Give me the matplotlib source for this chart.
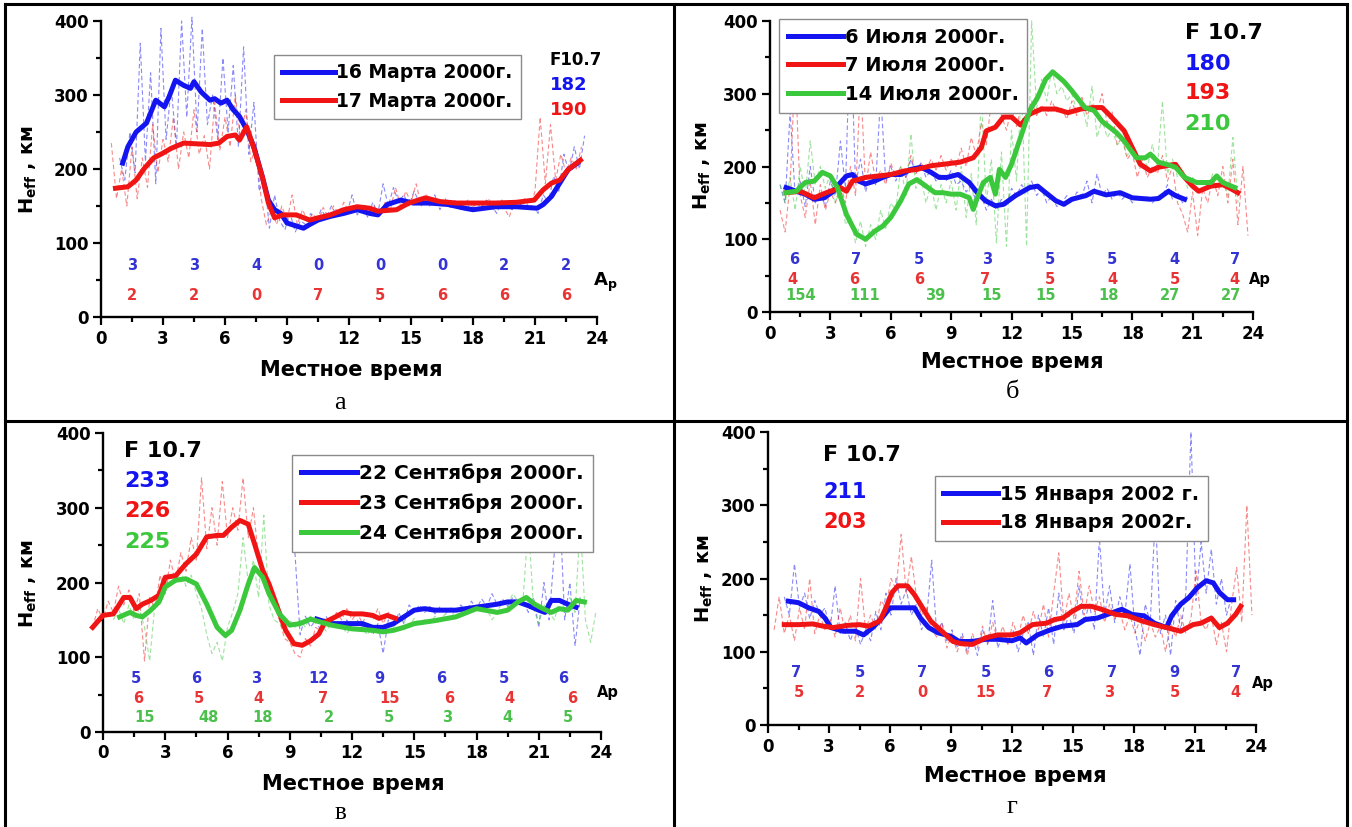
import numpy as np
import matplotlib.pyplot as plt
from matplotlib.ticker import MultipleLocator
from matplotlib.lines import Line2D

plt.rcParams["font.family"] = ["DejaVu Sans"]
plt.rcParams["font.weight"] = "bold"
plt.rcParams["mathtext.fontset"] = "custom"
plt.rcParams["mathtext.rm"] = "DejaVu Sans:bold"
plt.rcParams["mathtext.it"] = "DejaVu Sans:bold"
plt.rcParams["mathtext.bf"] = "DejaVu Sans:bold"

BLUE, RED, GREEN = "#1414f0", "#f01414", "#3cc83c"
AP_BLUE, AP_RED, AP_GREEN = "#3434d4", "#e83434", "#4cc04c"

# ---------------- а: March 2000 ----------------
a_blue_t = [1.05, 1.3, 1.7, 2.2, 2.65, 3.07, 3.3, 3.6, 4.0, 4.33, 4.5, 4.85, 5.27, 5.5, 5.8, 6.1, 6.4, 6.7, 7.05, 7.4,
            7.8, 8.1, 8.4, 8.7, 9.0, 9.45, 9.8, 10.1, 10.5, 11.1, 11.75, 12.4, 13.0, 13.4, 13.85, 14.5, 15.1, 15.9,
            16.8, 17.6, 18.0, 19.1, 20.1, 21.1, 21.4, 21.8, 22.2, 22.6, 23.05]
a_blue_h = [208, 230, 250, 262, 293, 284, 298, 320, 313, 309, 318, 304, 293, 295, 289, 293, 280, 271, 253, 230,
            190, 158, 145, 140, 127, 123, 120, 125, 131, 136, 140, 145, 140, 138, 152, 158, 154, 154,
            152, 147, 145, 149, 149, 147, 152, 163, 181, 199, 208]
a_red_t = [0.7, 1.3, 1.7, 2.1, 2.55, 2.97, 3.4, 4.0, 4.65, 5.27, 5.7, 6.1, 6.5, 6.7, 7.05, 7.4, 7.8, 8.1, 8.4, 8.8,
           9.45, 10.1, 10.5, 11.1, 11.75, 12.4, 13.0, 13.4, 14.3, 14.9, 15.7, 16.4, 17.2, 18.0, 19.1, 20.1, 20.96,
           21.4, 21.8, 22.2, 22.6, 23.2]
a_red_h = [174, 176, 185, 201, 215, 221, 228, 235, 234, 233, 235, 244, 246, 239, 257, 228, 190, 154, 134, 138,
           138, 131, 134, 138, 145, 149, 147, 143, 145, 154, 161, 156, 154, 154, 154, 155, 158,
           172, 181, 185, 199, 212]
# raw soundings, every 15 min
a_blue_raw_t0 = 0.9
a_blue_raw = [215, 185, 250, 195, 370, 210, 330, 180, 390, 240, 310, 230, 400, 270, 405, 250, 390, 260, 300, 240,
              350, 250, 340, 230, 365, 220, 290, 170, 190, 120, 165, 130, 118, 140, 115, 130, 125, 140, 128, 145,
              135, 150, 138, 145, 140, 165, 138, 150, 135, 155, 140, 180, 150, 175, 155, 165, 150, 170, 155, 160,
              150, 165, 145, 160, 148, 158, 145, 155, 145, 155, 148, 158, 150, 140, 158, 150, 145, 155, 150, 148,
              150, 140, 165, 155, 190, 170, 220, 195, 230, 200, 245]
a_red_raw_t0 = 0.5
a_red_raw = [235, 160, 200, 150, 230, 160, 215, 175, 260, 195, 240, 210, 270, 200, 250, 215, 280, 220, 245, 200,
             290, 225, 270, 230, 300, 240, 280, 210, 230, 160, 125, 145, 125, 150, 130, 165, 125, 145, 130, 140,
             128, 148, 135, 150, 140, 155, 142, 150, 145, 152, 140, 150, 140, 155, 145, 175, 150, 170, 155, 180,
             150, 165, 150, 160, 150, 158, 148, 155, 150, 158, 148, 155, 150, 160, 145, 152, 148, 135, 155, 150,
             160, 145, 170, 270, 180, 260, 185, 220, 195, 215, 200, 230]
a_labels = ["16 Марта 2000г.", "17 Марта 2000г."]
a_f107 = ["182", "190"]
a_ap_blue = [3, 3, 4, 0, 0, 0, 2, 2]
a_ap_red = [2, 2, 0, 7, 5, 6, 6, 6]
a_ap_x = [1.5, 4.5, 7.5, 10.5, 13.5, 16.5, 19.5, 22.5]

# ---------------- б: July 2000 ----------------
b_blue_t = [0.8, 1.3, 1.75, 2.2, 2.7, 3.15, 3.5, 3.8, 4.1, 4.4, 4.75, 5.2, 5.6, 6.0, 6.5, 7.0, 7.5, 8.0, 8.4, 8.8,
            9.35, 9.9, 10.3, 10.7, 11.2, 11.6, 12.2, 12.9, 13.3, 13.7, 14.2, 14.6, 15.0, 15.7, 16.1, 16.7, 17.4,
            18.0, 18.9, 19.3, 19.8, 20.15, 20.6]
b_blue_h = [171, 166, 162, 155, 157, 166, 178, 187, 189, 180, 176, 180, 185, 189, 189, 196, 199, 192, 185, 185,
            189, 178, 164, 153, 146, 148, 160, 171, 173, 164, 153, 148, 155, 160, 166, 161, 164,
            157, 155, 156, 166, 160, 155]
b_red_t = [0.8, 1.5, 2.2, 2.8, 3.5, 3.8, 4.1, 4.75, 5.4, 6.0, 6.7, 7.3, 8.0, 8.6, 9.45, 10.1, 10.5, 10.75, 11.2, 11.6,
           12.0, 12.45, 12.9, 13.5, 14.2, 14.8, 15.45, 16.1, 16.5, 16.9, 17.6, 18.0, 18.4, 18.9, 19.3, 19.7, 20.15,
           20.6, 21.0, 21.3, 21.9, 22.5, 22.8, 23.25]
b_red_h = [164, 166, 157, 164, 171, 166, 180, 185, 187, 189, 194, 196, 201, 203, 206, 212, 226, 249, 254, 268,
           268, 257, 272, 279, 279, 274, 279, 281, 281, 270, 249, 226, 203, 194, 199, 201, 203,
           185, 173, 166, 173, 175, 171, 164]
b_green_t = [0.8, 1.3, 1.75, 2.2, 2.6, 3.0, 3.35, 3.8, 4.3, 4.75, 5.2, 5.6, 6.0, 6.5, 6.9, 7.3, 7.75, 8.2, 8.6, 9.0,
             9.45, 9.9, 10.1, 10.3, 10.6, 10.95, 11.2, 11.4, 11.7, 12.0, 12.45, 12.9, 13.3, 13.7, 14.05, 14.6, 15.0,
             15.65, 16.1, 16.5, 17.2, 17.6, 18.2, 18.65, 18.9, 19.3, 19.7, 20.15, 20.6, 21.2, 21.9, 22.2, 22.5, 23.1]
b_green_h = [164, 166, 178, 180, 192, 187, 171, 134, 107, 100, 111, 118, 130, 153, 176, 182, 173, 164, 164, 162,
             162, 157, 141, 157, 178, 185, 162, 196, 185, 203, 240, 277, 295, 320, 330, 317, 304,
             281, 277, 262, 247, 235, 212, 212, 217, 206, 203, 199, 185, 178, 178, 187, 178, 171]
b_blue_raw_t0 = 0.5
b_blue_raw = [175, 150, 275, 160, 180, 145, 200, 150, 165, 145, 180, 160, 235, 170, 400, 175, 210, 165, 190, 175,
              300, 180, 200, 180, 195, 185, 210, 190, 205, 185, 195, 180, 190, 180, 195, 175, 180, 165, 175, 150,
              160, 140, 155, 140, 155, 145, 170, 160, 175, 165, 180, 160, 170, 150, 160, 145, 150, 160, 150, 165,
              160, 180, 150, 190, 160, 170, 155, 165, 155, 162, 150, 160, 152, 160, 150, 158, 160, 175, 155, 165,
              150, 160]
b_red_raw_t0 = 0.5
b_red_raw = [140, 110, 175, 340, 160, 130, 180, 120, 175, 140, 165, 150, 175, 150, 200, 160, 320, 170, 220, 180,
             195, 175, 205, 185, 200, 185, 215, 190, 205, 195, 210, 195, 215, 195, 210, 200, 225, 200, 240, 215,
             260, 230, 290, 330, 270, 250, 280, 255, 285, 265, 290, 270, 285, 270, 290, 275, 280, 265, 290, 270,
             295, 270, 285, 275, 300, 260, 275, 230, 240, 210, 220, 185, 210, 185, 200, 190, 215, 180, 200, 150,
             135, 110, 165, 105, 170, 150, 185, 160, 200, 150, 210, 120, 200, 105]
b_green_raw_t0 = 0.5
b_green_raw = [175, 150, 185, 140, 200, 160, 235, 175, 200, 170, 190, 150, 170, 120, 130, 95, 125, 90, 120, 100,
               140, 115, 150, 140, 200, 160, 245, 170, 185, 150, 175, 140, 175, 150, 180, 140, 200, 130, 190, 120,
               300, 150, 210, 95, 220, 90, 250, 180, 310, 90, 400, 280, 320, 290, 335, 300, 310, 290, 300, 275,
               285, 255, 310, 240, 265, 240, 250, 230, 235, 215, 225, 205, 215, 200, 230, 200, 290, 190, 210, 185,
               195, 170, 185, 175, 180, 170, 190, 175, 180, 160, 240, 150]
b_labels = ["6 Июля 2000г.", "7 Июля 2000г.", "14 Июля 2000г."]
b_f107 = ["180", "193", "210"]
b_ap_blue = [6, 7, 5, 3, 5, 5, 4, 7]
b_ap_blue_x = [1.2, 4.3, 7.4, 10.8, 13.9, 17.0, 20.1, 23.1]
b_ap_red = [4, 6, 6, 7, 5, 4, 5, 4]
b_ap_red_x = [1.1, 4.2, 7.4, 10.7, 13.9, 17.0, 20.1, 23.1]
b_ap_green = [154, 111, 39, 15, 15, 18, 27, 27]
b_ap_green_x = [1.5, 4.7, 8.2, 11.0, 13.7, 16.8, 19.9, 22.9]

# ---------------- в: September 2000 ----------------
c_blue_t = [10.3, 11.0, 12.0, 12.5, 13.0, 13.5, 14.0, 14.5, 15.0, 15.5, 16.0, 17.0, 18.0, 19.0, 19.5, 20.0, 20.5,
            21.0, 21.3, 21.6, 22.0, 22.4, 22.8]
c_blue_h = [151, 145, 145, 145, 140, 140, 145, 154, 163, 165, 163, 163, 167, 171, 174, 174, 169,
            163, 160, 176, 176, 171, 167]
c_red_t = [-0.5, 0.0, 0.5, 1.0, 1.3, 1.6, 1.9, 2.3, 2.7, 3.0, 3.5, 4.0, 4.5, 5.0, 5.5, 5.8, 6.2, 6.6, 7.0, 7.3,
           7.7, 8.0, 8.4, 8.8, 9.2, 9.6, 10.0, 10.4, 10.7, 11.2, 11.6, 12.0, 12.5, 13.0, 13.3, 13.7, 14.1]
c_red_h = [140, 156, 158, 180, 180, 165, 171, 176, 183, 207, 209, 225, 238, 261, 263, 263, 274, 283, 278, 252,
           216, 198, 167, 136, 118, 116, 122, 131, 147, 154, 160, 158, 158, 156, 152, 156, 152]
c_green_t = [0.8, 1.3, 1.6, 1.9, 2.3, 2.7, 3.0, 3.5, 4.0, 4.5, 5.0, 5.5, 5.9, 6.2, 6.6, 7.0, 7.3, 7.7, 8.0, 8.5,
             9.0, 9.5, 10.0, 10.5, 11.0, 12.0, 13.0, 13.5, 14.0, 14.5, 15.0, 16.0, 17.0, 18.0, 19.0, 19.5, 20.0,
             20.4, 20.8, 21.2, 21.6, 22.0, 22.4, 22.8, 23.2]
c_green_h = [154, 160, 156, 154, 163, 174, 194, 203, 205, 198, 171, 140, 129, 136, 163, 198, 220, 207, 185, 158,
             143, 145, 151, 147, 143, 138, 136, 134, 136, 140, 145, 149, 154, 165, 160, 163, 174,
             180, 171, 165, 160, 165, 163, 176, 174]
c_blue_raw_t0 = 9.25
c_blue_raw = [240, 130, 155, 140, 150, 135, 155, 140, 148, 140, 150, 138, 150, 140, 145, 130, 145, 105, 150, 135,
              160, 145, 170, 160, 170, 160, 168, 158, 168, 158, 166, 160, 170, 160, 175, 165, 178, 168, 185, 170,
              178, 168, 180, 170, 175, 160, 180, 140, 200, 150, 240, 310, 150, 200, 115, 180]
c_red_raw_t0 = -0.5
c_red_raw = [140, 165, 150, 175, 160, 195, 170, 190, 160, 185, 95, 180, 165, 210, 185, 230, 200, 240, 215, 260,
             230, 340, 245, 300, 250, 335, 260, 300, 270, 340, 260, 300, 230, 210, 185, 170, 150, 125, 120, 105,
             100, 125, 115, 140, 135, 150, 145, 160, 150, 165, 150, 160, 145, 160, 150, 165, 145, 160, 150]
c_green_raw_t0 = 0.5
c_green_raw = [150, 165, 145, 170, 150, 165, 140, 95, 170, 185, 195, 210, 200, 215, 195, 210, 185, 165, 130, 105,
               120, 95, 140, 160, 185, 260, 200, 230, 180, 290, 170, 150, 145, 135, 150, 140, 150, 140, 155, 145,
               145, 135, 145, 138, 142, 132, 140, 135, 138, 130, 142, 132, 138, 145, 140, 150, 148, 142, 152, 146,
               150, 145, 155, 150, 158, 152, 165, 158, 168, 160, 170, 162, 165, 150, 160, 175, 170, 185, 175, 180,
               280, 165, 145, 170, 160, 150, 175, 165, 180, 160, 280, 150, 120, 160]
c_labels = ["22 Сентября 2000г.", "23 Сентября 2000г.", "24 Сентября 2000г."]
c_f107 = ["233", "226", "225"]
c_ap_blue = [5, 6, 3, 12, 9, 6, 5, 6]
c_ap_blue_x = [1.6, 4.5, 7.4, 10.4, 13.3, 16.3, 19.3, 22.2]
c_ap_red = [6, 5, 4, 7, 15, 6, 4, 6]
c_ap_red_x = [1.7, 4.6, 7.5, 10.6, 13.8, 16.7, 19.6, 22.6]
c_ap_green = [15, 48, 18, 2, 5, 3, 4, 5]
c_ap_green_x = [2.0, 5.1, 7.7, 10.9, 13.8, 16.6, 19.5, 22.4]

# ---------------- г: January 2002 ----------------
d_blue_t = [1.0, 1.5, 2.0, 2.5, 2.8, 3.1, 3.7, 4.3, 4.7, 5.15, 5.6, 6.0, 6.65, 7.2, 7.5, 7.9, 8.35, 9.0, 9.4, 10.05,
            10.7, 11.3, 12.0, 12.4, 12.7, 13.25, 13.9, 14.5, 15.2, 15.6, 16.2, 16.9, 17.4, 17.9, 18.5, 19.0, 19.6,
            19.85, 20.3, 20.7, 21.1, 21.55, 21.9, 22.2, 22.6, 22.9]
d_blue_h = [169, 167, 160, 155, 146, 133, 128, 128, 123, 133, 146, 160, 160, 160, 146, 133, 126, 121, 114, 114,
            117, 117, 115, 119, 112, 123, 130, 135, 137, 144, 146, 153, 158, 151, 149, 139, 133,
            149, 165, 174, 187, 197, 194, 181, 171, 171]
d_red_t = [0.8, 1.5, 2.2, 2.7, 3.2, 3.9, 4.5, 4.95, 5.5, 5.8, 6.1, 6.4, 6.85, 7.2, 7.6, 8.0, 8.55, 9.1, 9.5, 10.05,
           10.7, 11.3, 12.0, 12.4, 13.0, 13.7, 14.1, 14.5, 14.95, 15.4, 15.9, 16.4, 17.1, 17.7, 18.4, 19.0, 19.6,
           20.3, 20.9, 21.3, 21.8, 22.2, 22.6, 23.0, 23.25]
d_red_h = [137, 137, 138, 135, 133, 136, 137, 135, 142, 160, 181, 190, 190, 178, 160, 142, 128, 114, 111, 110,
           119, 123, 123, 126, 137, 139, 144, 146, 155, 162, 162, 158, 151, 149, 142, 137, 133,
           128, 137, 139, 146, 133, 139, 151, 162]
d_blue_raw_t0 = 0.8
d_blue_raw = [175, 150, 220, 160, 180, 145, 170, 150, 160, 130, 190, 125, 140, 115, 135, 110, 130, 115, 155, 130,
              180, 150, 200, 165, 185, 150, 165, 130, 145, 225, 125, 140, 115, 130, 105, 125, 100, 120, 95, 130,
              110, 170, 105, 125, 110, 130, 100, 125, 140, 95, 150, 120, 160, 110, 180, 130, 150, 125, 190, 140,
              165, 130, 255, 150, 190, 140, 175, 150, 220, 130, 95, 165, 140, 290, 125, 150, 95, 170, 130, 180,
              400, 170, 250, 180, 240, 165, 200, 150, 175]
d_red_raw_t0 = 0.3
d_red_raw = [130, 175, 125, 150, 115, 160, 130, 200, 125, 150, 130, 145, 120, 160, 125, 150, 115, 200, 130, 150,
             130, 170, 160, 200, 185, 260, 180, 230, 175, 150, 160, 130, 120, 140, 105, 125, 100, 120, 95, 125,
             105, 135, 110, 140, 115, 135, 110, 140, 120, 150, 125, 155, 130, 165, 120, 180, 235, 140, 180, 145,
             210, 150, 190, 155, 175, 140, 165, 145, 155, 130, 150, 125, 145, 115, 140, 120, 135, 100, 140, 120,
             150, 125, 145, 210, 140, 130, 150, 110, 140, 100, 165, 215, 140, 300, 150]
d_labels = ["15 Января 2002 г.", "18 Января 2002г."]
d_f107 = ["211", "203"]
d_ap_blue = [7, 5, 7, 5, 6, 7, 9, 7]
d_ap_blue_x = [1.4, 4.5, 7.6, 10.7, 13.8, 16.9, 20.0, 23.0]
d_ap_red = [5, 2, 0, 15, 7, 3, 5, 4]
d_ap_red_x = [1.5, 4.5, 7.6, 10.7, 13.7, 16.8, 20.0, 23.0]

W, H = 1352, 827
fig = plt.figure(figsize=(W / 100, H / 100), dpi=100)


def px_box(x0, y0, x1, y1):
    return [x0 / W, 1 - y1 / H, (x1 - x0) / W, (y1 - y0) / H]


def fig_line(xs, ys):
    fig.add_artist(Line2D([x / W for x in xs], [1 - y / H for y in ys],
                          transform=fig.transFigure, color="black", lw=2.2))


def fig_label(x, y, s, **kw):
    fig.text(x / W, 1 - y / H, s, ha="center", va="center", **kw)


def setup_axes(ax):
    ax.set_xlim(0, 24)
    ax.set_ylim(0, 400)
    for side in ("top", "right"):
        ax.spines[side].set_visible(False)
    for side in ("left", "bottom"):
        ax.spines[side].set_linewidth(1.7)
    ax.xaxis.set_major_locator(MultipleLocator(3))
    ax.xaxis.set_minor_locator(MultipleLocator(1.5))
    ax.yaxis.set_major_locator(MultipleLocator(100))
    ax.yaxis.set_minor_locator(MultipleLocator(50))
    ax.tick_params(which="major", direction="out", length=6, width=1.6, labelsize=12, pad=3)
    ax.tick_params(which="minor", direction="out", length=3.5, width=1.6)
    for lab in ax.get_xticklabels() + ax.get_yticklabels():
        lab.set_fontweight("bold")
    ax.patch.set_alpha(0)


def raw_line(ax, t0, vals, color):
    t = t0 + 0.25 * np.arange(len(vals))
    ax.plot(t, vals, color=color, lw=0.8, alpha=0.5, dashes=(4, 2.5), zorder=1, clip_on=False)


def ap_row(ax, xs, vals, y, color):
    for x, v in zip(xs, vals):
        ax.text(x, y, str(v), ha="center", va="center", fontsize=10.5, fontweight="bold", color=color)


def f107_block(ax, x, ys, title, vals, colors, size_t, size_v):
    ax.text(x, ys[0], title, ha="left", va="center", fontsize=size_t, fontweight="bold", color="black")
    for y, v, c in zip(ys[1:], vals, colors):
        ax.text(x, y, v, ha="left", va="center", fontsize=size_v, fontweight="bold", color=c)


def add_legend(ax, handles, labels, corner, size):
    leg = ax.legend(handles, labels, loc="upper left", bbox_to_anchor=corner, bbox_transform=ax.transData,
                    fontsize=size, frameon=True, fancybox=False, edgecolor="#8a8a8a", framealpha=1,
                    handlelength=2.8, handletextpad=0.1, borderpad=0.45, labelspacing=0.5, borderaxespad=0)
    leg.get_frame().set_linewidth(1.0)
    for txt in leg.get_texts():
        txt.set_fontweight("bold")


# outer table lines (bottom edge runs off the page)
fig_line([5, 1347], [4, 4])
fig_line([5, 5], [4, 827])
fig_line([1347, 1347], [4, 827])
fig_line([674, 674], [4, 827])
fig_line([5, 1347], [421, 421])

ylab = "H$_{\\mathregular{eff}}$ , км"

# а
ax = fig.add_axes(px_box(101, 21, 597, 317))
setup_axes(ax)
raw_line(ax, a_blue_raw_t0, a_blue_raw, BLUE)
raw_line(ax, a_red_raw_t0, a_red_raw, RED)
l1, = ax.plot(a_blue_t, a_blue_h, color=BLUE, lw=3.6, zorder=3)
l2, = ax.plot(a_red_t, a_red_h, color=RED, lw=3.6, zorder=3)
add_legend(ax, [l1, l2], a_labels, (8.35, 354), 13.5)
f107_block(ax, 21.7, [347, 313, 280], "F10.7", a_f107, [BLUE, RED], 12, 13)
ap_row(ax, a_ap_x, a_ap_blue, 69, AP_BLUE)
ap_row(ax, a_ap_x, a_ap_red, 29, AP_RED)
ax.text(23.8, 47, "A$_p$", ha="left", va="center", fontsize=13, fontweight="bold")
fig_label(351, 370, "Местное время", fontsize=15, fontweight="bold")
fig_label(28, 170, ylab, fontsize=14, fontweight="bold", rotation=90)
fig_label(340, 403, "а", fontsize=19, fontweight="normal", family="Liberation Serif")

# б
ax = fig.add_axes(px_box(770, 21, 1253, 312))
setup_axes(ax)
raw_line(ax, b_blue_raw_t0, b_blue_raw, BLUE)
raw_line(ax, b_red_raw_t0, b_red_raw, RED)
raw_line(ax, b_green_raw_t0, b_green_raw, GREEN)
l1, = ax.plot(b_blue_t, b_blue_h, color=BLUE, lw=3.6, zorder=3)
l2, = ax.plot(b_red_t, b_red_h, color=RED, lw=3.6, zorder=3)
l3, = ax.plot(b_green_t, b_green_h, color=GREEN, lw=3.6, zorder=3)
add_legend(ax, [l1, l2, l3], b_labels, (0.47, 403), 14)
f107_block(ax, 20.6, [383, 341, 301, 258], "F 10.7", b_f107, [BLUE, RED, GREEN], 16, 16)
ap_row(ax, b_ap_blue_x, b_ap_blue, 72, AP_BLUE)
ap_row(ax, b_ap_red_x, b_ap_red, 45, AP_RED)
ap_row(ax, b_ap_green_x, b_ap_green, 22, AP_GREEN)
ax.text(23.8, 45, "Ap", ha="left", va="center", fontsize=10.5, fontweight="bold")
fig_label(1012, 362, "Местное время", fontsize=15, fontweight="bold")
fig_label(702, 166, ylab, fontsize=14, fontweight="bold", rotation=90)
fig_label(1012, 392, "б", fontsize=19, fontweight="normal", family="Liberation Serif")

# в
ax = fig.add_axes(px_box(103, 433, 601, 732))
setup_axes(ax)
raw_line(ax, c_blue_raw_t0, c_blue_raw, BLUE)
raw_line(ax, c_red_raw_t0, c_red_raw, RED)
raw_line(ax, c_green_raw_t0, c_green_raw, GREEN)
l1, = ax.plot(c_blue_t, c_blue_h, color=BLUE, lw=3.6, zorder=3)
l2, = ax.plot(c_red_t, c_red_h, color=RED, lw=3.6, zorder=3, clip_on=False)
l3, = ax.plot(c_green_t, c_green_h, color=GREEN, lw=3.6, zorder=3)
add_legend(ax, [l1, l2, l3], c_labels, (9.1, 371), 14.5)
f107_block(ax, 1.0, [376, 336, 296, 254], "F 10.7", c_f107, [BLUE, RED, GREEN], 16, 16)
ap_row(ax, c_ap_blue_x, c_ap_blue, 71, AP_BLUE)
ap_row(ax, c_ap_red_x, c_ap_red, 45, AP_RED)
ap_row(ax, c_ap_green_x, c_ap_green, 20, AP_GREEN)
ax.text(23.8, 53, "Ap", ha="left", va="center", fontsize=10.5, fontweight="bold")
fig_label(353, 784, "Местное время", fontsize=15, fontweight="bold")
fig_label(28, 584, ylab, fontsize=14, fontweight="bold", rotation=90)
fig_label(340, 813, "в", fontsize=18, fontweight="normal", family="Liberation Serif")

# г
ax = fig.add_axes(px_box(768, 432, 1256, 725))
setup_axes(ax)
raw_line(ax, d_blue_raw_t0, d_blue_raw, BLUE)
raw_line(ax, d_red_raw_t0, d_red_raw, RED)
l1, = ax.plot(d_blue_t, d_blue_h, color=BLUE, lw=3.6, zorder=3)
l2, = ax.plot(d_red_t, d_red_h, color=RED, lw=3.6, zorder=3)
add_legend(ax, [l1, l2], d_labels, (8.2, 340), 14)
f107_block(ax, 2.7, [369, 318, 277], "F 10.7", d_f107, [BLUE, RED], 16, 15)
ap_row(ax, d_ap_blue_x, d_ap_blue, 72, AP_BLUE)
ap_row(ax, d_ap_red_x, d_ap_red, 44, AP_RED)
ax.text(23.8, 56, "Ap", ha="left", va="center", fontsize=10.5, fontweight="bold")
fig_label(1015, 776, "Местное время", fontsize=15, fontweight="bold")
fig_label(704, 579, ylab, fontsize=14, fontweight="bold", rotation=90)
fig_label(1012, 807, "г", fontsize=19, fontweight="normal", family="Liberation Serif")

fig.savefig("out.png", dpi=100)
